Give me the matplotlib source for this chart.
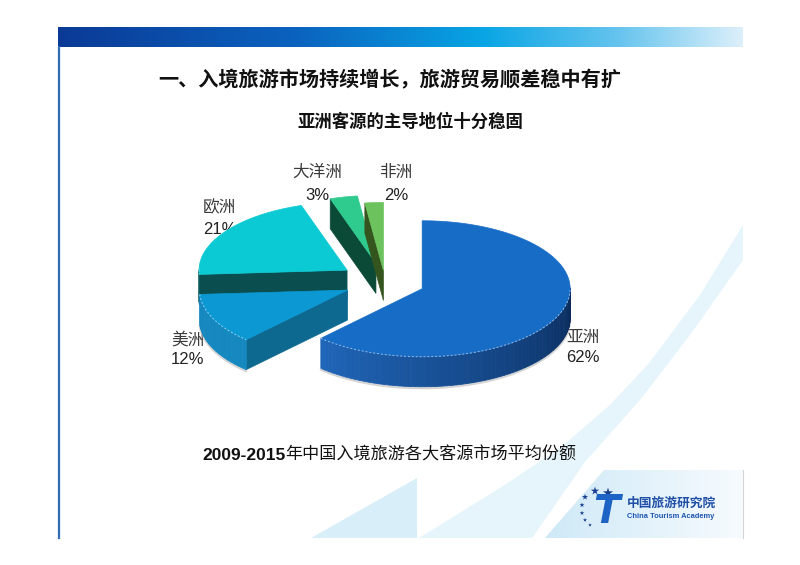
import numpy as np
import matplotlib.pyplot as plt
from matplotlib.patches import Polygon
from matplotlib.colors import LinearSegmentedColormap, to_rgb

plt.rcParams['font.family'] = ['Noto Sans CJK SC', 'DejaVu Sans']

# chart data
regions = ['亚洲', '美洲', '欧洲', '大洋洲', '非洲']
shares = [62, 12, 21, 3, 2]
pct_labels = ['62%', '12%', '21%', '3%', '2%']
explode = [0.27, 0.28, 0.31, 0.28, 0.17]

title = '一、入境旅游市场持续增长，旅游贸易顺差稳中有扩'
subtitle = '亚洲客源的主导地位十分稳固'
caption_years = '2009-2015'
caption_rest = '年中国入境旅游各大客源市场平均份额'

top_colors = ['#176cc6', '#0c98d3', '#0ccad3', '#2fca8e', '#6cc35e']
side_colors = ['#2066b9', '#1588c0', '#0b5b5c', '#0b4a36', '#35581f']
edge_colors = ['#0a2b5a', '#0d6990', '#0b4e50', '#0b4a36', '#34561e']

# label layout (pixels): name line / percent line
name_xy = [(583, 337), (188, 340), (220, 208), (317, 172), (396, 172)]
pct_xy = [(583, 358), (188, 360), (220, 229), (317, 195), (396, 195)]

# pie geometry in pixels
cx, cy = 385, 282
rx, ry = 148, 68
depth = 30

fig = plt.figure(figsize=(8, 5.65), dpi=100)
ax = fig.add_axes([0, 0, 1, 1])
ax.set_xlim(0, 800)
ax.set_ylim(565, 0)
ax.axis('off')

# ---- slide decoration ----
bar_cmap = LinearSegmentedColormap.from_list(
    'bar', [(0, '#0a3a96'), (0.35, '#0b63bf'), (0.62, '#08a5e4'),
            (0.82, '#66c4ee'), (1, '#dcefFA')])
ax.imshow(np.linspace(0, 1, 256)[None, :], cmap=bar_cmap,
          extent=(58, 743, 47, 27), aspect='auto', zorder=1)
ax.plot([58.5, 58.5], [47, 538], color='#2f6db5', lw=1.6, zorder=1)
ax.plot([743, 743], [470, 538], color='#d4d4d4', lw=0.8, zorder=1)

ax.add_patch(Polygon([(311, 538), (417, 478), (417, 538)],
                     closed=True, fc='#d8eef9', ec='none', zorder=0))
band = [(419, 538), (500, 488), (560, 448), (610, 405), (650, 362),
        (700, 295), (743, 225), (743, 260), (690, 335), (640, 400),
        (585, 462), (532, 538)]
ax.add_patch(Polygon(band, closed=True, fc='#e6f4fb', ec='none', zorder=0))
panel_cmap = LinearSegmentedColormap.from_list('panel', ['#cfe9f7', '#f6fbfe'])
panel = Polygon([(545, 538), (604, 470), (743, 470), (743, 538)],
                closed=True, fc='none', ec='none')
ax.add_patch(panel)
im = ax.imshow(np.linspace(0, 1, 128)[None, :], cmap=panel_cmap,
               extent=(545, 743, 538, 470), aspect='auto', zorder=0)
im.set_clip_path(panel)

# ---- titles ----
ax.text(390, 80, title, ha='center', va='center', fontsize=14.5,
        fontweight='bold', color='#111111')
ax.text(410, 122, subtitle, ha='center', va='center', fontsize=12.5,
        fontweight='bold', color='#111111')
t_years = ax.text(202, 455, caption_years, ha='left', va='center', fontsize=12.5,
                  fontweight='bold', color='#111111',
                  family=['Liberation Sans', 'DejaVu Sans'])
ax.annotate(caption_rest, xy=(1, 0.5), xycoords=t_years, ha='left',
            va='center', fontsize=12.3, fontweight='medium', color='#111111')

# ---- 3D exploded pie ----
angles = 360 * np.array(shares) / sum(shares)
his = 90 - np.concatenate([[0], np.cumsum(angles)[:-1]])
los = his - angles


def pt(theta, ox, oy, r=1.0, z=0.0):
    t = np.radians(theta)
    return (cx + ox + rx * r * np.cos(t), cy + oy - ry * r * np.sin(t) + z)


offsets = []
for i in range(len(shares)):
    mid = np.radians((los[i] + his[i]) / 2)
    offsets.append((explode[i] * rx * np.cos(mid), -explode[i] * ry * np.sin(mid)))

order = sorted(range(len(shares)), key=lambda k: offsets[k][1])
zo = 5
for i in order:
    lo, hi = los[i], his[i]
    ox, oy = offsets[i]
    apex = (cx + ox, cy + oy)
    apex_b = (cx + ox, cy + oy + depth)

    # radial walls that face the viewer
    if np.cos(np.radians(hi)) < -1e-6:
        ax.add_patch(Polygon([apex, pt(hi, ox, oy), pt(hi, ox, oy, z=depth), apex_b],
                             closed=True, fc=edge_colors[i], ec=edge_colors[i],
                             lw=0.5, zorder=zo))
    if np.cos(np.radians(lo)) > 1e-6:
        ax.add_patch(Polygon([apex, pt(lo, ox, oy), pt(lo, ox, oy, z=depth), apex_b],
                             closed=True, fc=edge_colors[i], ec=edge_colors[i],
                             lw=0.5, zorder=zo))

    # curved outer wall, front half only
    ts = np.linspace(lo, hi, max(4, int(angles[i] / 2)))
    vis = [k for k in range(len(ts) - 1)
           if np.sin(np.radians((ts[k] + ts[k + 1]) / 2)) < 0]
    if vis:
        a0 = ts[vis[0]]
        span = max(ts[vis[-1] + 1] - a0, 1e-6)
    for k in vis:
        a, b = ts[k], ts[k + 1]
        if i == 0:
            lam = ((a + b) / 2 - a0) / span
            c = (1 - lam) * np.array(to_rgb(side_colors[i])) + lam * np.array(to_rgb(edge_colors[i]))
        else:
            c = to_rgb(side_colors[i])
        ax.add_patch(Polygon([pt(a, ox, oy), pt(b, ox, oy),
                              pt(b, ox, oy, z=depth), pt(a, ox, oy, z=depth)],
                             closed=True, fc=c, ec=c, lw=0.6, zorder=zo))
    if vis and i in (0, 1):
        arc = np.linspace(ts[vis[0]], ts[vis[-1] + 1], 80)
        bx, by = zip(*[pt(a, ox, oy, z=depth + 1.5) for a in arc])
        ax.plot(bx, by, color='#b8b8b8', lw=1.5, alpha=0.6, zorder=zo - 1)

    # top face
    arc = np.linspace(lo, hi, max(6, int(angles[i])))
    face = [apex] + [pt(a, ox, oy) for a in arc]
    ax.add_patch(Polygon(face, closed=True, fc=top_colors[i], ec=top_colors[i],
                         lw=0.5, zorder=zo + 0.5))
    if vis:
        fx, fy = zip(*[pt(a, ox, oy) for a in np.linspace(ts[vis[0]], ts[vis[-1] + 1], 80)])
        ax.plot(fx, fy, color='white', lw=0.7, ls=(0, (2, 2)), alpha=0.55,
                zorder=zo + 0.6)
    zo += 1

# labels
for i in range(len(shares)):
    ha = 'left' if i == 2 else 'center'
    nx = 203 if i == 2 else name_xy[i][0]
    ax.text(nx, name_xy[i][1], regions[i], ha=ha, va='center', fontsize=12,
            color='#3a3a3a', fontweight='light')
    ax.text(nx, pct_xy[i][1], pct_labels[i], ha=ha, va='center', fontsize=12,
            color='#222222', family=['Liberation Sans', 'DejaVu Sans'])

# ---- logo ----
star_x = [608, 595, 585, 582, 582, 585, 590]
star_y = [493, 491, 497, 505, 513, 520, 525]
star_s = [60, 40, 22, 14, 12, 10, 8]
ax.scatter(star_x, star_y, s=star_s, marker='*', color='#1b3f8f', zorder=20,
           linewidths=0)
ax.text(606, 512, 'T', ha='center', va='center', fontsize=28, style='italic',
        fontweight='bold', color='#1d63c6', family='DejaVu Sans', zorder=20)
ax.text(627, 503, '中国旅游研究院', ha='left', va='center', fontsize=9.2,
        fontweight='bold', color='#1f4fa6', zorder=20)
ax.text(627, 516, 'China Tourism Academy', ha='left', va='center', fontsize=5.4,
        fontweight='bold', color='#1f55b0', family='Liberation Sans', zorder=20)

ax.set_xlim(0, 800)
ax.set_ylim(565, 0)
fig.savefig('out.png', dpi=100)
